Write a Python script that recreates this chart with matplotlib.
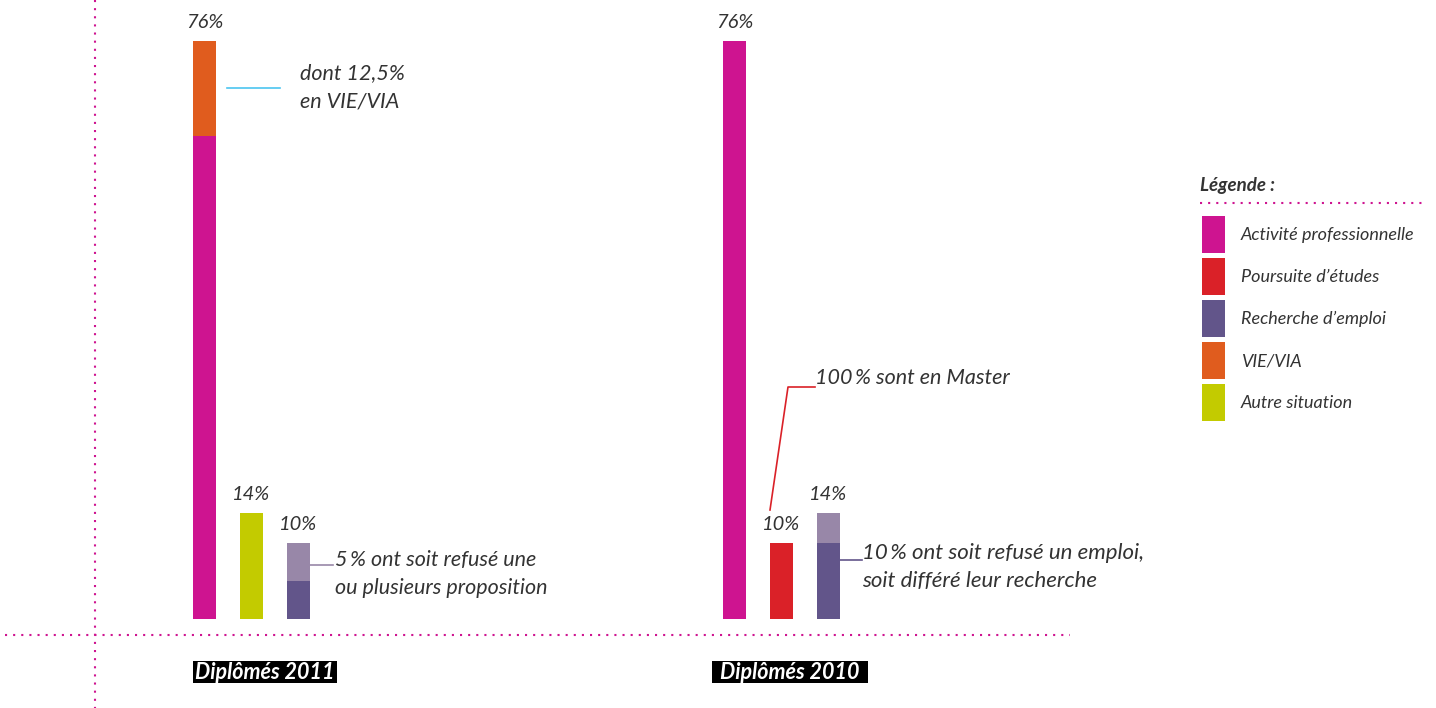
import matplotlib.pyplot as plt
from matplotlib.patches import Rectangle

# Data
groups = ["Diplômés 2011", "Diplômés 2010"]
cats_2011 = ["Activité professionnelle", "Autre situation", "Recherche d’emploi"]
base_2011 = [63.5, 14, 5]
top_2011 = [12.5, 0, 5]
cats_2010 = ["Activité professionnelle", "Poursuite d’études", "Recherche d’emploi"]
base_2010 = [76, 10, 10]
top_2010 = [0, 0, 4]

legend_labels = ["Activité professionnelle", "Poursuite d’études", "Recherche d’emploi",
                 "VIE/VIA", "Autre situation"]

# Colours
PINK = "#CE1490"
colors = {
    "Activité professionnelle": "#CE1490",
    "Poursuite d’études": "#DA2128",
    "Recherche d’emploi": "#62558A",
    "VIE/VIA": "#E05C1E",
    "Autre situation": "#C3CB00",
}
top_colors = {
    "Activité professionnelle": "#E05C1E",
    "Recherche d’emploi": "#9887A8",
}
TXT = "#333333"
FONT = ["Lato", "DejaVu Sans"]

W, H = 1436, 708
fig = plt.figure(figsize=(W / 100, H / 100), dpi=100)
ax = fig.add_axes([0, 0, 1, 1])
ax.axis("off")

# y scale: 0% at pixel 619, 76% at pixel 41
BASE_PX, TOP_PX = 619, 41
per_px = 76 / (BASE_PX - TOP_PX)
ax.set_xlim(0, W)
ax.set_ylim(-(H - BASE_PX) * per_px, 76 + TOP_PX * per_px)


def ypx(py):
    return (BASE_PX - py) * per_px


def fx(px):
    return px / W


def fy(py):
    return 1 - py / H


# Bars
group_x0 = [204.5, 734.5]
step = 47
bw = 23
for g, (cats, base, top) in enumerate([(cats_2011, base_2011, top_2011),
                                       (cats_2010, base_2010, top_2010)]):
    for i, cat in enumerate(cats):
        x = group_x0[g] + i * step
        ax.bar(x, base[i], width=bw, color=colors[cat], linewidth=0)
        if top[i] > 0:
            ax.bar(x, top[i], bottom=base[i], width=bw, color=top_colors[cat], linewidth=0)
        total = base[i] + top[i]
        ax.text(x, total + 10 * per_px, f"{total:g}%", ha="center", va="bottom",
                fontsize=14.5, style="italic", color=TXT, family=FONT)

# Dotted guide lines
ax.plot([5, 1070], [ypx(635), ypx(635)], color=PINK, lw=1.5, ls=(0, (1, 2.9)))
ax.plot([95, 95], [ypx(0), ypx(708)], color=PINK, lw=1.5, ls=(0, (1, 2.9)))

# Group labels on black boxes
box_x = [(193, 337), (712, 868)]
for (x0, x1), name in zip(box_x, groups):
    ax.add_patch(Rectangle((x0, ypx(683)), x1 - x0, ypx(661) - ypx(683),
                           facecolor="black", edgecolor="none"))
    ax.text((x0 + x1) / 2, ypx(672.5), name, ha="center", va="center",
            fontsize=15.5, fontweight="bold", style="italic", color="white", family=FONT)

# Annotations
ax.plot([227, 280], [ypx(88), ypx(88)], color="#4CC5F0", lw=1.2)
ax.text(300, ypx(87), "dont 12,5%\nen VIE/VIA", ha="left", va="center", fontsize=15.5,
        style="italic", color=TXT, family=FONT, linespacing=1.5)

ax.plot([310, 333], [ypx(565), ypx(565)], color="#9887A8", lw=1.2)
ax.text(335, ypx(574), "5\u2009% ont soit refusé une\nou plusieurs proposition", ha="left",
        va="center", fontsize=15.5, style="italic", color=TXT, family=FONT, linespacing=1.5)

ax.plot([770, 788, 815], [ypx(510), ypx(387), ypx(387)], color="#DA2128", lw=1.2)
ax.text(815, ypx(378), "100\u2009% sont en Master", ha="left", va="center", fontsize=15.5,
        style="italic", color=TXT, family=FONT)

ax.plot([839, 862], [ypx(560), ypx(560)], color="#62558A", lw=1.2)
ax.text(862, ypx(567), "10\u2009% ont soit refusé un emploi,\nsoit différé leur recherche",
        ha="left", va="center", fontsize=16, style="italic", color=TXT, family=FONT,
        linespacing=1.45)

# Legend
fig.text(fx(1200), fy(185), "Légende :", ha="left", va="center", fontsize=13.5,
         fontweight="bold", style="italic", color=TXT, family=FONT)
fig.add_artist(plt.Line2D([fx(1200), fx(1422)], [fy(203), fy(203)], color=PINK, lw=1.5,
                          ls=(0, (1, 2.9))))
leg_tops = [216, 258, 300, 342, 384]
for lab, t in zip(legend_labels, leg_tops):
    fig.add_artist(Rectangle((fx(1202), fy(t + 37)), 23 / W, 37 / H, transform=fig.transFigure,
                             color=colors[lab], linewidth=0))
    fig.text(fx(1241), fy(t + 19), lab, ha="left", va="center", fontsize=13,
             style="italic", color=TXT, family=FONT)

fig.savefig("out.png", dpi=100)
